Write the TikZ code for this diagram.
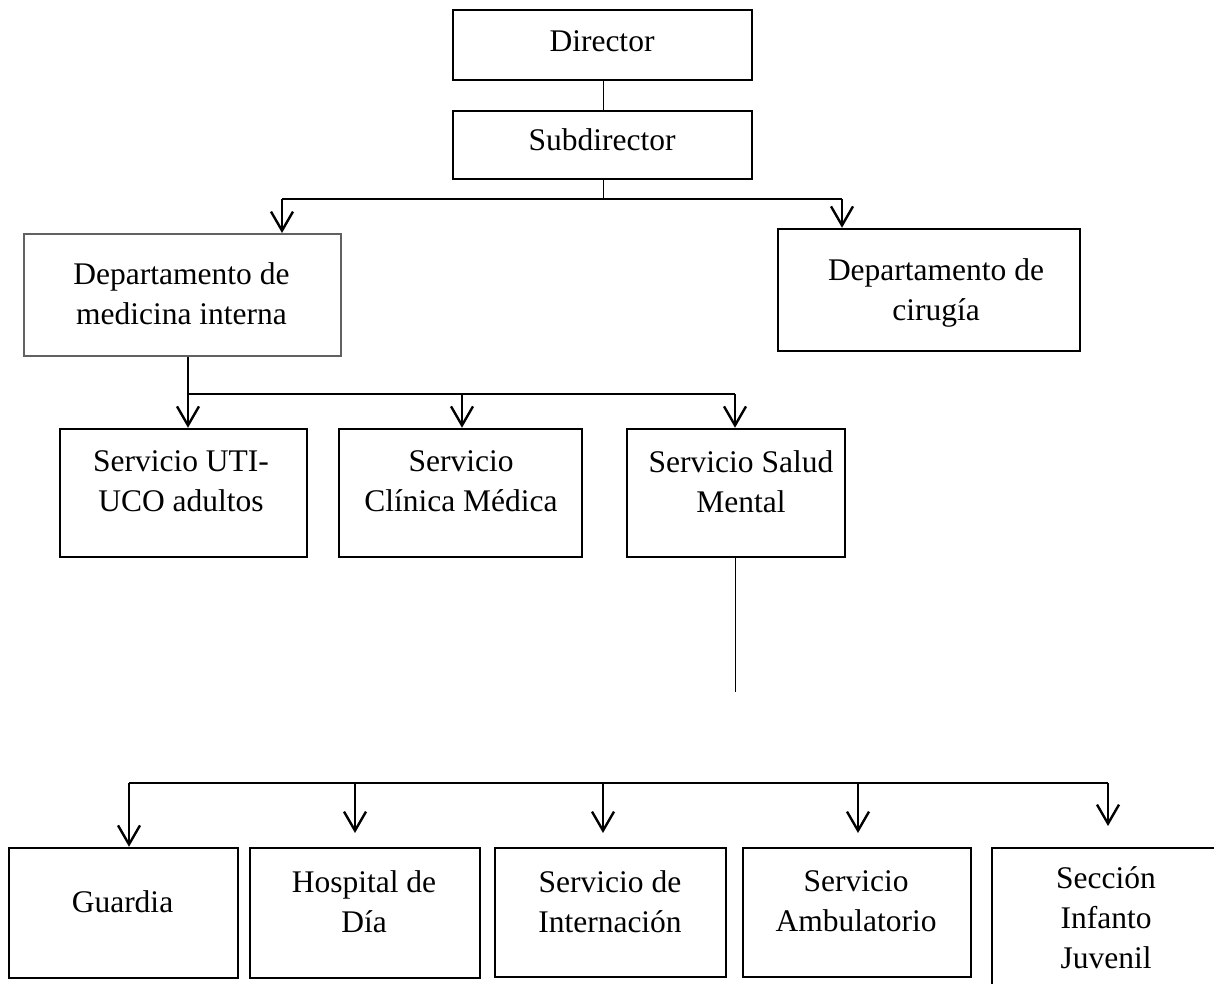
\documentclass[tikz,border=0pt]{standalone}
\usepackage{fontspec}
\setmainfont{Liberation Serif}
\usetikzlibrary{arrows.meta}
\begin{document}
\begin{tikzpicture}[x=1pt,y=-1pt,
  orgbox/.style n args={2}{draw=black, line width=2.5pt, inner sep=0pt, minimum width=#1pt, minimum height=#2pt},
  graybox/.style={draw=black!62, line width=2pt},
  lbl/.style={align=center, inner sep=0pt, font=\fontsize{31.5}{40}\selectfont},
  thinln/.style={line width=1pt},
  busln/.style={line width=1.4pt},
  arr/.style={line width=2.4pt, -{Straight Barb[length=19pt,width=22pt]}}]
\useasboundingbox (0,0) rectangle (1214,983);

% boxes
\node[orgbox={299}{70}] (dir) at (602.5,45) {};
\node[orgbox={299}{68}] (sub) at (602.5,145) {};
\node[orgbox={317}{122}, graybox] (med) at (182.5,295) {};
\node[orgbox={302}{122}] (cir) at (929,290) {};
\node[orgbox={247}{128}] (uti) at (183.5,493) {};
\node[orgbox={243}{128}] (cli) at (460.5,493) {};
\node[orgbox={218}{128}] (sal) at (736,493) {};
\node[orgbox={229}{130}] (gua) at (123.5,913) {};
\node[orgbox={230}{130}] (hos) at (365,913) {};
\node[orgbox={231}{129}] (int) at (610.5,912.5) {};
\node[orgbox={228}{129}] (amb) at (857,912.5) {};
\node[inner sep=0pt, minimum width=238pt, minimum height=152pt] (sec) at (1111,924) {};
\draw[line width=2.5pt] (sec.south west) -- (sec.north west) -- (sec.north east);

% labels
\node[lbl] (tdir) at (602,41.5) {Director};
\node[lbl] (tsub) at (602,139.3) {Subdirector};
\node[lbl] (tmed) at (181.5,293.7) {Departamento de\\medicina interna};
\node[lbl] (tcir) at (936,292.7) {Departamento de\\cirugía};
\node[lbl] (tuti) at (181,481.3) {Servicio UTI-\\UCO adultos};
\node[lbl] (tcli) at (461,481.7) {Servicio\\Clínica Médica};
\node[lbl] (tsal) at (741,481.7) {Servicio Salud\\Mental};
\node[lbl] (tgua) at (122.5,902) {Guardia};
\node[lbl] (thos) at (364,901.7) {Hospital de\\Día};
\node[lbl] (tint) at (610,902) {Servicio de\\Internación};
\node[lbl] (tamb) at (856,901) {Servicio\\Ambulatorio};
\node[lbl] (tsec) at (1106,917.6) {Sección\\Infanto\\Juvenil};

% bus coordinates
\coordinate (b1) at (603,199);
\coordinate (b1l) at (282,199);
\coordinate (b1r) at (842,199);
\coordinate (b2l) at (188,394);
\coordinate (b2m) at (462,394);
\coordinate (b2r) at (735,394);
\coordinate (sfree) at (735,692);
\coordinate (b3a) at (129,783);
\coordinate (b3b) at (355,783);
\coordinate (b3c) at (603,783);
\coordinate (b3d) at (858,783);
\coordinate (b3e) at (1108,783);
\coordinate (tb) at (355,833);
\coordinate (tc) at (603,833);
\coordinate (td) at (858,833);
\coordinate (te) at (1108,826);

% connectors
\draw[thinln] (dir.south -| b1) -- (sub.north -| b1);
\draw[thinln] (sub.south -| b1) -- (b1);
\draw[busln] (b1l) -- (b1r);
\draw[arr] (b1l) -- (b1l |- med.north);
\draw[arr] (b1r) -- (b1r |- cir.north);

\draw[arr] (med.south -| b2l) -- (b2l |- uti.north);
\draw[busln] (b2l) -- (b2r);
\draw[arr] (b2m) -- (b2m |- cli.north);
\draw[arr] (b2r) -- (b2r |- sal.north);

\draw[thinln] (sal.south -| sfree) -- (sfree);

\draw[busln] (b3a) -- (b3e);
\draw[arr] (b3a) -- (b3a |- gua.north);
\draw[arr] (b3b) -- (tb);
\draw[arr] (b3c) -- (tc);
\draw[arr] (b3d) -- (td);
\draw[arr] (b3e) -- (te);
\end{tikzpicture}
\end{document}
